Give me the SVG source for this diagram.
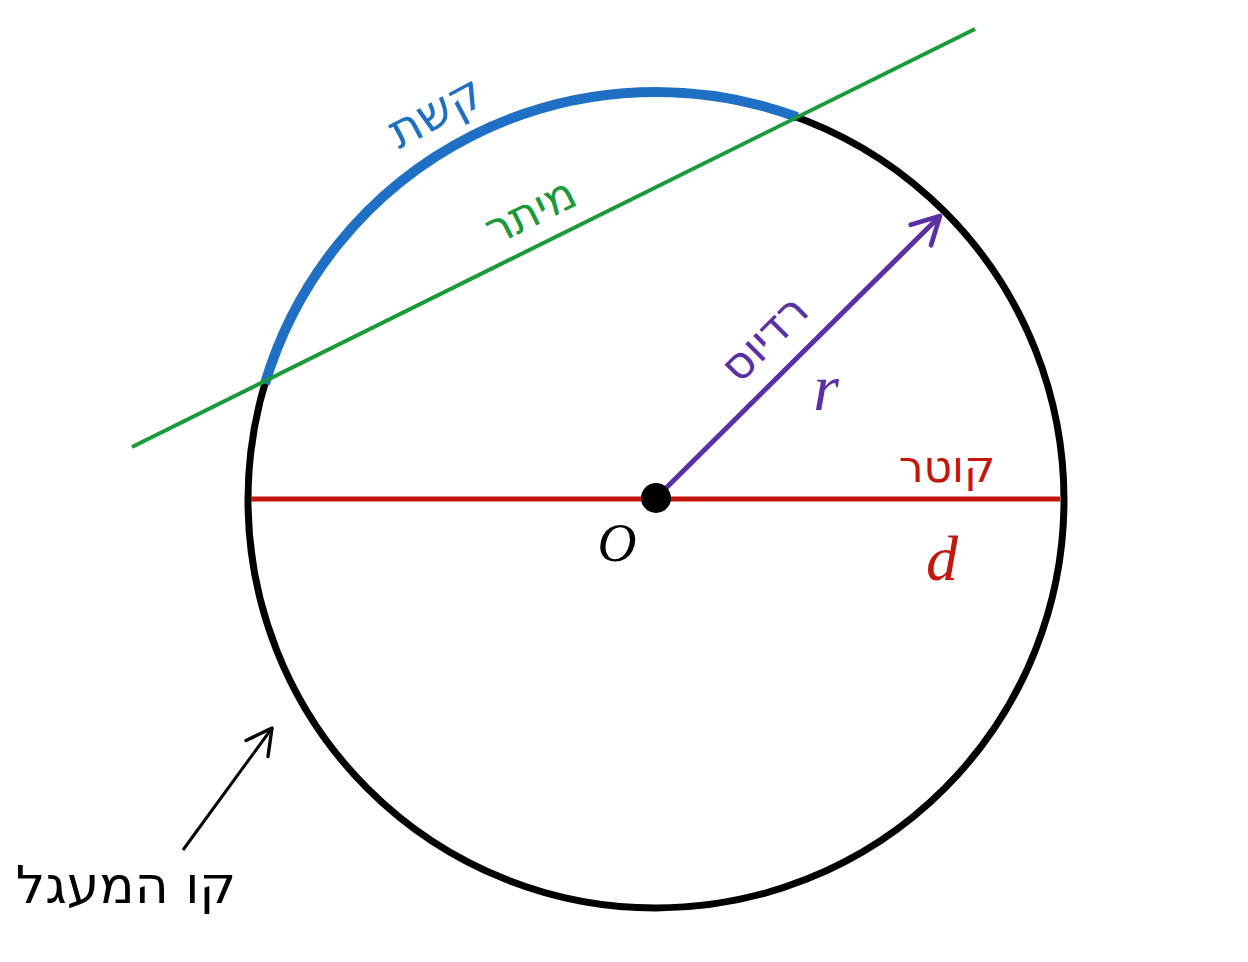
<svg xmlns="http://www.w3.org/2000/svg" width="1248" height="962" viewBox="0 0 1248 962">
<style>
.heb{font-family:"DejaVu Sans","Liberation Sans",sans-serif;text-anchor:middle}
.math{font-family:"Liberation Serif","DejaVu Serif",serif;font-style:italic;text-anchor:middle}
</style>
<defs>
<marker id="headP" viewBox="0 0 20 20" refX="17" refY="10" markerWidth="36" markerHeight="36" markerUnits="userSpaceOnUse" orient="auto">
<path d="M2,2 L17,10 L2,18" fill="none" stroke="#5b2fa6" stroke-width="2.6" stroke-linecap="round" stroke-linejoin="round"/>
</marker>
<marker id="headK" viewBox="0 0 20 20" refX="17" refY="10" markerWidth="34" markerHeight="34" markerUnits="userSpaceOnUse" orient="auto">
<path d="M2,2 L17,10 L2,18" fill="none" stroke="#000" stroke-width="2" stroke-linecap="round" stroke-linejoin="round"/>
</marker>
</defs>
<rect width="1248" height="962" fill="#fff"/>
<g id="circle">
<circle cx="656" cy="500" r="408" fill="none" stroke="#000" stroke-width="7"/>
</g>
<g id="arc">
<path d="M264.9,383.9 A408,408 0 0 1 797,117" fill="none" stroke="#1f6fc4" stroke-width="10"/>
<text class="heb" x="443" y="126" font-size="48" fill="#1f6fc4" transform="rotate(-28 443 126)">קשת</text>
</g>
<g id="connectors">
<line id="chord" x1="132" y1="447" x2="975" y2="29" stroke="#1a9a3a" stroke-width="4"/>
<line id="diameter" x1="251" y1="499" x2="1060" y2="499" stroke="#c4160c" stroke-width="5"/>
<line id="radius" x1="656" y1="498" x2="940" y2="216" stroke="#5b2fa6" stroke-width="5" marker-end="url(#headP)"/>
<line id="pointer" x1="183" y1="850" x2="272" y2="728" stroke="#000" stroke-width="3" marker-end="url(#headK)"/>
</g>
<g id="chord-label">
<text class="heb" x="537" y="225" font-size="45" fill="#1a9a3a" transform="rotate(-26.4 537 225)">מיתר</text>
</g>
<g id="radius-label">
<text class="heb" x="775" y="349" font-size="45" fill="#5b2fa6" transform="rotate(-45 775 349)">רדיוס</text>
<text class="math" x="826" y="410" font-size="66" fill="#5b2fa6">r</text>
</g>
<g id="diameter-label">
<text class="heb" x="947" y="482" font-size="44" fill="#c4160c">קוטר</text>
<text class="math" x="942" y="580" font-size="64" fill="#c4160c">d</text>
</g>
<g id="center">
<circle cx="656" cy="498" r="15" fill="#000"/>
<text class="math" x="617" y="561" font-size="54" fill="#000">O</text>
</g>
<g id="circle-label">
<text class="heb" x="126" y="903" font-size="52" fill="#000">קו המעגל</text>
</g>
</svg>
